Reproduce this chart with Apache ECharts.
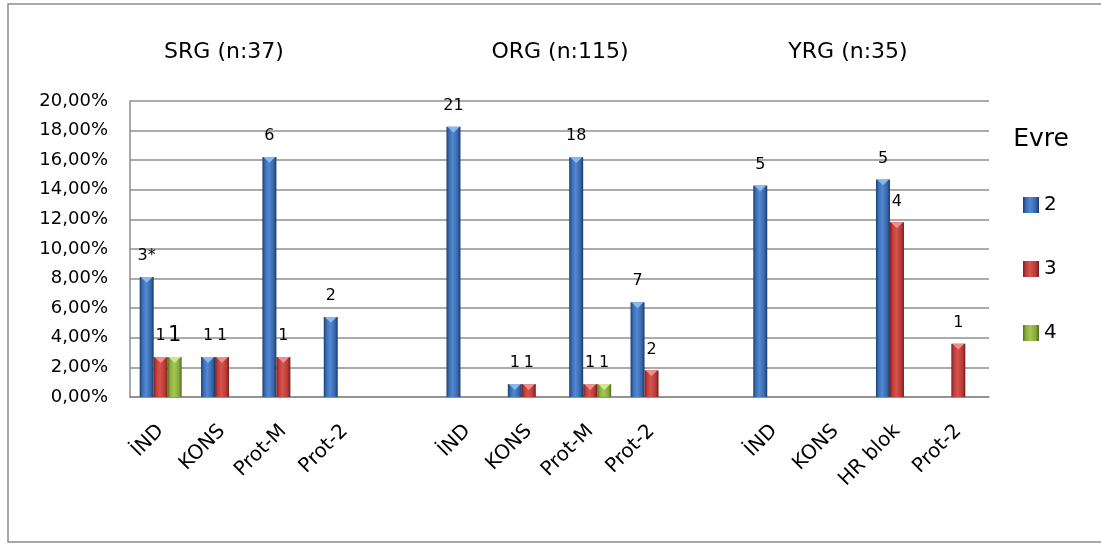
<!DOCTYPE html>
<html>
<head>
<meta charset="utf-8">
<script src="https://cdn.jsdelivr.net/npm/echarts@6/dist/echarts.min.js"></script>
<style>
  html, body { margin: 0; padding: 0; background: #ffffff; }
  #chart { width: 1101px; height: 544px; }
</style>
</head>
<body>
<div id="chart"></div>
<script>
// Categories: three groups of four, separated by empty slots
const categories = ['İND', 'KONS', 'Prot-M', 'Prot-2', '',
                    'İND', 'KONS', 'Prot-M', 'Prot-2', ' ',
                    'İND', 'KONS', 'HR blok', 'Prot-2'];
const groupTitles = ['SRG (n:37)', 'ORG (n:115)', 'YRG (n:35)'];
const seriesNames = ['2', '3', '4'];
const legendTitle = 'Evre';

// Share of patients (%) per stage ("Evre")
const evre2 = [8.11, 2.70, 16.22, 5.41, null, 18.26, 0.87, 16.2, 6.4, null, 14.29, null, 14.7, null];
const evre3 = [2.70, 2.70, 2.70, null, null, null, 0.87, 0.87, 1.8, null, null, null, 11.8, 3.6];
const evre4 = [2.70, null, null, null, null, null, null, 0.87, null, null, null, null, null, null];

// Patient counts written above the bars
const labels2 = ['3*', '1', '6', '2', null, '21', '1', '18', '7', null, '5', null, '5', null];
const labels3 = ['1', '1', '1', null, null, null, '1', '1', '2', null, null, null, '4', '1'];
const labels4 = ['1', null, null, null, null, null, null, '1', null, null, null, null, null, null];

// Value axis range and step (%)
const yMin = 0, yMax = 20, yStep = 2;

const FONT = 'DejaVu Sans';

const palette = [
  { stops: ['#1b3c6e', '#3a6db3', '#5289d2', '#3766aa', '#1a3966'], cap: '#8ab8ee' },
  { stops: ['#7a1f1d', '#c03c38', '#d6534e', '#b63a36', '#741c1a'], cap: '#ee8f8b' },
  { stops: ['#566f1f', '#8aac3c', '#a6c758', '#87a73a', '#526a1c'], cap: '#d2e796' }
];

function barFill(p) {
  return new echarts.graphic.LinearGradient(0, 0, 1, 0, [
    { offset: 0, color: p.stops[0] },
    { offset: 0.18, color: p.stops[1] },
    { offset: 0.45, color: p.stops[2] },
    { offset: 0.8, color: p.stops[3] },
    { offset: 1, color: p.stops[4] }
  ]);
}

// The green "1" in the first İND group is set in a larger type
const largeLabel = { series: 2, index: 0 };

function makeRenderer(k, labels) {
  return function (params, api) {
    const idx = api.value(0);
    const v = api.value(1);
    const top = api.coord([idx, v]);
    const base = api.coord([idx, 0]);
    const band = api.size([1, 0])[0];
    const w = band * 0.228;
    const x0 = top[0] + (k - 1) * w - w / 2;
    const h = base[1] - top[1];
    const p = palette[k];
    const capH = Math.min(w * 0.42, h);
    const text = labels[idx];
    const big = (k === largeLabel.series && idx === largeLabel.index);
    const rect = {
      type: 'rect',
      shape: { x: x0, y: top[1], width: w, height: h },
      style: { fill: barFill(p) }
    };
    if (text) {
      rect.textContent = {
        style: { text: text, fontFamily: FONT, fontSize: big ? 21 : 16, fill: '#000000' }
      };
      rect.textConfig = { position: 'top', distance: big ? 11 : 13 };
    }
    return {
      type: 'group',
      children: [
        rect,
        {
          type: 'polygon',
          shape: { points: [[x0 + 1, top[1]], [x0 + w - 1, top[1]], [x0 + w / 2, top[1] + capH]] },
          style: { fill: p.cap }
        }
      ]
    };
  };
}

function toPoints(values) {
  const out = [];
  values.forEach(function (v, i) { if (v != null) out.push([i, v]); });
  return out;
}

const valueSets = [evre2, evre3, evre4];
const labelSets = [labels2, labels3, labels4];

const series = seriesNames.map(function (name, k) {
  return {
    name: name,
    type: 'custom',
    renderItem: makeRenderer(k, labelSets[k]),
    encode: { x: 0, y: 1 },
    itemStyle: { color: palette[k].stops[2] },
    data: toPoints(valueSets[k])
  };
});

const chart = echarts.init(document.getElementById('chart'), null, { renderer: 'canvas' });

chart.setOption({
  animation: false,
  backgroundColor: '#ffffff',
  grid: { left: 130, right: 112, top: 101, bottom: 147, containLabel: false },
  xAxis: {
    type: 'category',
    data: categories,
    axisLine: { show: true, lineStyle: { color: '#8c8c8c', width: 1.5 } },
    axisTick: { show: false },
    splitLine: { show: false },
    axisLabel: {
      interval: 0,
      rotate: 45,
      margin: 31,
      fontFamily: FONT,
      fontSize: 20,
      color: '#000000'
    }
  },
  yAxis: {
    type: 'value',
    min: yMin,
    max: yMax,
    interval: yStep,
    axisLine: { show: true, lineStyle: { color: '#8c8c8c', width: 1.5 } },
    axisTick: { show: false },
    splitLine: { show: true, lineStyle: { color: '#8f8f8f', width: 1.6 } },
    axisLabel: {
      margin: 22,
      fontFamily: FONT,
      fontSize: 18,
      color: '#000000',
      formatter: function (v) { return v.toFixed(2).replace('.', ',') + '%'; }
    }
  },
  legend: {
    orient: 'vertical',
    left: 1023,
    top: 195,
    padding: 0,
    itemWidth: 16,
    itemHeight: 16,
    itemGap: 44,
    icon: 'rect',
    textStyle: { fontFamily: FONT, fontSize: 20, color: '#000000', lineHeight: 16 },
    data: seriesNames.map(function (n, k) {
      return { name: n, itemStyle: { color: barFill(palette[k]) } };
    })
  },
  graphic: [
    {
      type: 'rect',
      x: 8, y: 4,
      shape: { width: 1200, height: 538 },
      style: { fill: 'none', stroke: '#8c8c8c', lineWidth: 1.5 },
      silent: true
    },
    {
      type: 'text', x: 224, y: 52,
      style: { text: groupTitles[0], fontFamily: FONT, fontSize: 22, fill: '#000000', align: 'center', verticalAlign: 'middle' }
    },
    {
      type: 'text', x: 560, y: 52,
      style: { text: groupTitles[1], fontFamily: FONT, fontSize: 22, fill: '#000000', align: 'center', verticalAlign: 'middle' }
    },
    {
      type: 'text', x: 848, y: 52,
      style: { text: groupTitles[2], fontFamily: FONT, fontSize: 22, fill: '#000000', align: 'center', verticalAlign: 'middle' }
    },
    {
      type: 'text', x: 1041, y: 139,
      style: { text: legendTitle, fontFamily: FONT, fontSize: 25, fill: '#000000', align: 'center', verticalAlign: 'middle' }
    }
  ],
  series: series
});
</script>
</body>
</html>
